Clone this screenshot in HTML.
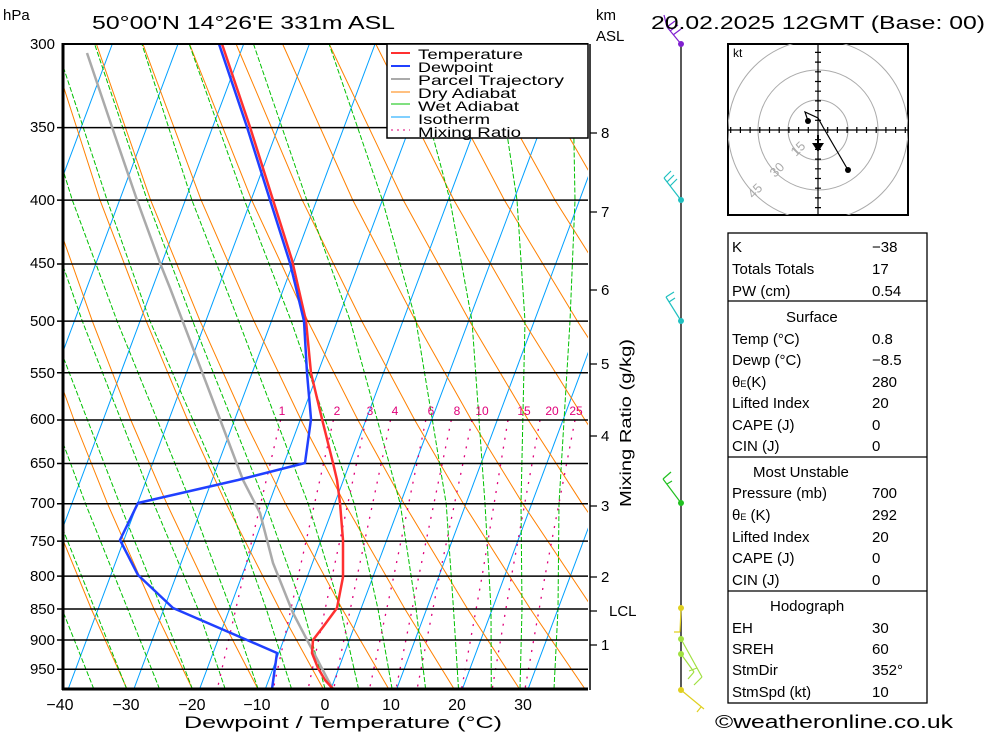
<!DOCTYPE html>
<html><head><meta charset="utf-8"><style>
html,body{margin:0;padding:0;background:#fff;}
svg{display:block;font-family:"Liberation Sans",sans-serif;}
</style></head><body>
<svg width="1000" height="733" viewBox="0 0 1000 733" xmlns="http://www.w3.org/2000/svg">
<defs><clipPath id="pc"><rect x="63" y="44" width="525" height="645"/></clipPath>
<clipPath id="hc"><rect x="728" y="44" width="180" height="171"/></clipPath></defs>
<rect width="1000" height="733" fill="#fff"/>
<g clip-path="url(#pc)" fill="none" stroke-width="1">
<!-- isotherms -->
<g stroke="#00a0ff">
<line x1="-128.9" y1="689" x2="112.3" y2="44"/>
<line x1="-63.2" y1="689" x2="178" y2="44"/>
<line x1="2.5" y1="689" x2="243.7" y2="44"/>
<line x1="68.2" y1="689" x2="309.4" y2="44"/>
<line x1="133.9" y1="689" x2="375.1" y2="44"/>
<line x1="199.6" y1="689" x2="440.8" y2="44"/>
<line x1="265.3" y1="689" x2="506.5" y2="44"/>
<line x1="331" y1="689" x2="572.2" y2="44"/>
<line x1="396.7" y1="689" x2="637.9" y2="44"/>
<line x1="462.4" y1="689" x2="703.6" y2="44"/>
<line x1="528.1" y1="689" x2="769.3" y2="44"/>
</g>
<!-- dry adiabats -->
<g stroke="#ff8000">
<polyline points="61.6,689 28.6,609 -11.2,503.7 -39.5,420 -69.4,321.1 -102.2,200.1 -136.5,44"/>
<polyline points="127,689 91.3,609 48.1,503.7 17.3,420 -15.5,321.1 -51.7,200.1 -89.9,44"/>
<polyline points="192.4,689 154,609 107.5,503.7 74,420 38.4,321.1 -1.1,200.1 -43.4,44"/>
<polyline points="257.9,689 216.7,609 166.8,503.7 130.8,420 92.3,321.1 49.5,200.1 3.2,44"/>
<polyline points="323.3,689 279.5,609 226.1,503.7 187.6,420 146.2,321.1 100,200.1 49.8,44"/>
<polyline points="388.7,689 342.2,609 285.5,503.7 244.4,420 200.1,321.1 150.6,200.1 96.4,44"/>
<polyline points="454.1,689 404.9,609 344.8,503.7 301.1,420 254,321.1 201.1,200.1 142.9,44"/>
<polyline points="519.5,689 467.6,609 404.1,503.7 357.9,420 307.9,321.1 251.7,200.1 189.5,44"/>
<polyline points="585,689 530.4,609 463.4,503.7 414.7,420 361.8,321.1 302.2,200.1 236.1,44"/>
<polyline points="650.4,689 593.1,609 522.8,503.7 471.4,420 415.7,321.1 352.8,200.1 282.6,44"/>
<polyline points="715.8,689 655.8,609 582.1,503.7 528.2,420 469.6,321.1 403.3,200.1 329.2,44"/>
<polyline points="781,689 718.5,609 641.4,503.7 585,420 523.5,321.1 453.9,200.1 375.8,44"/>
<polyline points="847,689 781.2,609 700.8,503.7 641.7,420 577.4,321.1 504.4,200.1 422.3,44"/>
<polyline points="912,689 844,609 760.1,503.7 698.5,420 631.3,321.1 555,200.1 468.9,44"/>
<polyline points="977,689 906.6,609 819.4,503.7 755.3,420 685.2,321.1 605.5,200.1 515.5,44"/>
<polyline points="1043,689 969,609 878.8,503.7 812,420 739.1,321.1 656.1,200.1 562.1,44"/>
</g>
<!-- wet adiabats -->
<g stroke="#00c000" stroke-dasharray="5,2">
<polyline points="93.8,689 62,609 21.1,503.7 -39.9,321.1 -74.9,200.1 -111.1,44"/>
<polyline points="126.7,689 94.8,609 52.6,503.7 -11.7,321.1 -47.9,200.1 -86.8,44"/>
<polyline points="159.5,689 127.7,609 85.5,503.7 17.9,321.1 -20.3,200.1 -61.1,44"/>
<polyline points="192.4,689 161.8,609 119.7,503.7 49.4,321.1 9.2,200.1 -33.6,44"/>
<polyline points="225.2,689 198,609 153.8,503.7 82.3,321.1 40.1,200.1 -5.3,44"/>
<polyline points="258.1,689 230.8,609 191.3,503.7 117.1,321.1 72.3,200.1 24.3,44"/>
<polyline points="291.6,689 266.3,609 229.4,503.7 150,321.1 107.1,200.1 55.8,44"/>
<polyline points="325.1,689 303.1,609 265.5,503.7 192.7,321.1 147.2,200.1 94.6,44"/>
<polyline points="358.6,689 340.5,609 308.2,503.7 238.7,321.1 191.9,200.1 141.9,44"/>
<polyline points="392.1,689 378,609 354.2,503.7 291.2,321.1 244.4,200.1 189.2,44"/>
<polyline points="425.6,689 416.1,609 400.2,503.7 350.3,321.1 306.8,200.1 253.5,44"/>
<polyline points="458.5,689 453.5,609 446.2,503.7 416,321.1 382.4,200.1 329.1,44"/>
<polyline points="491.3,689 491,609 485,503.7 472,321.1 450,200.1 408,44"/>
<polyline points="520,689 522,609 521,503.7 525,321.1 517,200.1 493.4,44"/>
<polyline points="554,689 558,609 559,503.7 570,321.1 575,200.1 572.2,44"/>
</g>
<!-- mixing ratio -->
<g stroke="#e0007a" stroke-width="1.3" stroke-dasharray="2,7">
<polyline points="280.6,420 243.4,576.1 217.3,689"/>
<polyline points="333.4,420 298.2,576.1 273.3,689"/>
<polyline points="365.9,420 332.2,576.1 308.1,689"/>
<polyline points="390.5,420 357.2,576.1 333.7,689"/>
<polyline points="425.8,420 393.8,576.1 369.5,689"/>
<polyline points="451.3,420 418.8,576.1 396,689"/>
<polyline points="472,420 439.4,576.1 417.1,689"/>
<polyline points="508,420 482.1,576.1 461.6,689"/>
<polyline points="540,420 511.5,576.1 492.2,689"/>
<polyline points="575,420 545,576.1 525,689"/>
</g>
</g>
<!-- pressure lines -->
<g stroke="#000" stroke-width="1.5">
<line x1="57" y1="127.6" x2="588" y2="127.6"/><line x1="57" y1="200.1" x2="588" y2="200.1"/>
<line x1="57" y1="264" x2="588" y2="264"/><line x1="57" y1="321.1" x2="588" y2="321.1"/>
<line x1="57" y1="372.8" x2="588" y2="372.8"/><line x1="57" y1="420" x2="588" y2="420"/>
<line x1="57" y1="463.5" x2="588" y2="463.5"/><line x1="57" y1="503.7" x2="588" y2="503.7"/>
<line x1="57" y1="541.1" x2="588" y2="541.1"/><line x1="57" y1="576.1" x2="588" y2="576.1"/>
<line x1="57" y1="609" x2="588" y2="609"/><line x1="57" y1="640" x2="588" y2="640"/>
<line x1="57" y1="669.3" x2="588" y2="669.3"/>
</g>
<!-- curves -->
<g clip-path="url(#pc)" fill="none" stroke-width="2.5" stroke-linejoin="round">
<polyline stroke="#aaa" points="87,53 112,127 137,200 160,263 170,288 207,385 243,480 260,513 273,563 293,613 328,680 333,689"/>
<polyline stroke="#ff3030" points="222,44 250,127 273,200 292,260 306,321 311,373 322,419 333,463 337,480 340,503 343,540 343,577 337,608 323,627 313,640 312,653 318,668 325,680 333,689"/>
<polyline stroke="#2040ff" points="219,44 247,127 270,200 290,263 304,321 307,373 311,419 305,463 238,480 138,503 120,540 138,575 173,608 247,640 277,653 272,689"/>
</g>
<!-- frame -->
<g stroke="#000">
<line x1="63" y1="43" x2="63" y2="690" stroke-width="3"/>
<line x1="62" y1="689" x2="588" y2="689" stroke-width="3"/>
<line x1="63" y1="44" x2="588" y2="44" stroke-width="2"/>
<line x1="590" y1="44" x2="590" y2="690" stroke-width="1.5"/>
<path d="M590 133h7M590 212h7M590 290h7M590 364h7M590 436h7M590 506h7M590 577h7M590 645h7M590 611h7" stroke-width="1.3"/>
<line x1="681" y1="44" x2="681" y2="689" stroke-width="1.3"/>
</g>
<!-- wind barbs -->
<g fill="none" stroke-width="1.2">
<g stroke="#8020d0"><path d="M681 44L667 27M667 27l8-6M670 31l8-6M673 35l8-6M667 27l-3-12"/></g>
<circle cx="681" cy="44" r="3" fill="#8020d0"/>
<g stroke="#20c0c0"><path d="M681 200L664 178M664 178l7-7M667 182l7-7M670 186l7-7"/></g>
<circle cx="681" cy="200" r="3" fill="#20c0c0"/>
<g stroke="#20c0c0"><path d="M681 321L666 297M666 297l8-5M669 302l6-4"/></g>
<circle cx="681" cy="321" r="3" fill="#20c0c0"/>
<g stroke="#20c020"><path d="M681 503L663 479M663 479l8-7M667 484l5-3"/></g>
<circle cx="681" cy="503" r="3" fill="#20c020"/>
<g stroke="#e0d020"><path d="M681 608L680 632M680 632h-6"/></g>
<circle cx="681" cy="608" r="3" fill="#e0d020"/>
<g stroke="#a0e040"><path d="M681 639L702 677M702 677l-8 8M697 668l-8 3"/><path d="M681 654L694 672M694 672l-6 7"/></g>
<circle cx="681" cy="639" r="3" fill="#a0e040"/><circle cx="681" cy="654" r="3" fill="#a0e040"/>
<g stroke="#e0d020"><path d="M681 690L704 709M701 707l-4 5"/></g>
<circle cx="681" cy="690" r="3" fill="#e0d020"/>
</g>
<!-- texts -->
<g font-size="16" fill="#000">
<text x="3" y="20" font-size="15">hPa</text>
<text x="92" y="29" font-size="18" textLength="303" lengthAdjust="spacingAndGlyphs">50°00'N 14°26'E 331m ASL</text>
<text x="596" y="20" font-size="15">km</text>
<text x="596" y="41" font-size="15">ASL</text>
<text x="651" y="29" font-size="18" textLength="334" lengthAdjust="spacingAndGlyphs">20.02.2025 12GMT (Base: 00)</text>
<g text-anchor="end" font-size="15">
<text x="55" y="49">300</text><text x="55" y="132">350</text><text x="55" y="205">400</text><text x="55" y="268">450</text><text x="55" y="326">500</text><text x="55" y="378">550</text><text x="55" y="424">600</text><text x="55" y="468">650</text><text x="55" y="508">700</text><text x="55" y="546">750</text><text x="55" y="581">800</text><text x="55" y="614">850</text><text x="55" y="645">900</text><text x="55" y="674">950</text>
</g>
<g text-anchor="middle" font-size="16">
<text x="60" y="710">−40</text><text x="126" y="710">−30</text><text x="192" y="710">−20</text><text x="257" y="710">−10</text><text x="325" y="710">0</text><text x="391" y="710">10</text><text x="457" y="710">20</text><text x="523" y="710">30</text>
</g>
<text x="184" y="728" font-size="17" textLength="318" lengthAdjust="spacingAndGlyphs">Dewpoint / Temperature (°C)</text>
<g font-size="15">
<text x="601" y="138">8</text><text x="601" y="217">7</text><text x="601" y="295">6</text><text x="601" y="369">5</text><text x="601" y="441">4</text><text x="601" y="511">3</text><text x="601" y="582">2</text><text x="601" y="650">1</text><text x="609" y="616">LCL</text>
</g>
<text transform="translate(631,507) rotate(-90)" font-size="16" textLength="168" lengthAdjust="spacingAndGlyphs">Mixing Ratio (g/kg)</text>
<g font-size="12" fill="#e0007a" text-anchor="middle">
<text x="282" y="415">1</text><text x="337" y="415">2</text><text x="370" y="415">3</text><text x="395" y="415">4</text><text x="431" y="415">6</text><text x="457" y="415">8</text><text x="482" y="415">10</text><text x="524" y="415">15</text><text x="552" y="415">20</text><text x="576" y="415">25</text>
</g>
<!-- legend -->
<rect x="387" y="44" width="201" height="94" fill="#fff" stroke="#000" stroke-width="1.5"/>
<g stroke-width="2">
<line x1="391" y1="53" x2="410" y2="53" stroke="#ff3030"/>
<line x1="391" y1="66" x2="410" y2="66" stroke="#2040ff"/>
<line x1="391" y1="79" x2="410" y2="79" stroke="#aaa"/>
<line x1="391" y1="92" x2="410" y2="92" stroke="#ff8000" stroke-width="1"/>
<line x1="391" y1="104" x2="410" y2="104" stroke="#00c000" stroke-width="1"/>
<line x1="391" y1="117" x2="410" y2="117" stroke="#00a0ff" stroke-width="1"/>
<line x1="391" y1="130" x2="410" y2="130" stroke="#e0007a" stroke-width="1" stroke-dasharray="2,4"/>
</g>
<g font-size="14">
<text x="418" y="59" textLength="105" lengthAdjust="spacingAndGlyphs">Temperature</text>
<text x="418" y="72" textLength="75" lengthAdjust="spacingAndGlyphs">Dewpoint</text>
<text x="418" y="85" textLength="146" lengthAdjust="spacingAndGlyphs">Parcel Trajectory</text>
<text x="418" y="98" textLength="98" lengthAdjust="spacingAndGlyphs">Dry Adiabat</text>
<text x="418" y="111" textLength="101" lengthAdjust="spacingAndGlyphs">Wet Adiabat</text>
<text x="418" y="124" textLength="72" lengthAdjust="spacingAndGlyphs">Isotherm</text>
<text x="418" y="137" textLength="103" lengthAdjust="spacingAndGlyphs">Mixing Ratio</text>
</g>
<!-- hodograph -->
<rect x="728" y="44" width="180" height="171" fill="#fff" stroke="#000" stroke-width="2"/>
<g clip-path="url(#hc)" fill="none" stroke="#aaa">
<circle cx="818" cy="130" r="30"/><circle cx="818" cy="130" r="60"/><circle cx="818" cy="130" r="90"/>
</g>
<g stroke="#000" stroke-width="1.2" fill="none">
<line x1="728" y1="130" x2="908" y2="130"/><line x1="818" y1="44" x2="818" y2="215"/>
<path d="M808.3 127v6M798.6 127v6M788.9 127v6M779.2 127v6M769.5 127v6M759.8 127v6M750.1 127v6M740.4 127v6M730.7 127v6M827.7 127v6M837.4 127v6M847.1 127v6M856.8 127v6M866.5 127v6M876.2 127v6M885.9 127v6M895.6 127v6M905.3 127v6"/>
<path d="M815 120.3h6M815 110.6h6M815 100.9h6M815 91.2h6M815 81.5h6M815 71.8h6M815 62.1h6M815 52.4h6M815 139.7h6M815 149.4h6M815 159.1h6M815 168.8h6M815 178.5h6M815 188.2h6M815 197.9h6M815 207.6h6"/>
<polyline points="808,121 805,112 818,118 823,127 848,170"/>
<line x1="818" y1="135" x2="818" y2="148" stroke-width="2"/>
</g>
<circle cx="808" cy="121" r="3" fill="#000"/><circle cx="848" cy="170" r="3" fill="#000"/>
<polygon points="812,143 824,143 818,152" fill="#000"/>
<text x="733" y="57" font-size="12">kt</text>
<g fill="#aaa" font-size="13">
<text transform="translate(796,157) rotate(-45)">15</text>
<text transform="translate(775,178) rotate(-45)">30</text>
<text transform="translate(753,199) rotate(-45)">45</text>
</g>
<!-- table -->
<g fill="none" stroke="#000" stroke-width="1.3">
<rect x="728" y="233" width="199" height="470"/>
<line x1="728" y1="301" x2="927" y2="301"/><line x1="728" y1="457" x2="927" y2="457"/><line x1="728" y1="591" x2="927" y2="591"/>
</g>
<g font-size="15">
<text x="732" y="252">K</text><text x="872" y="252">−38</text>
<text x="732" y="274">Totals Totals</text><text x="872" y="274">17</text>
<text x="732" y="296">PW (cm)</text><text x="872" y="296">0.54</text>
<text x="786" y="322">Surface</text>
<text x="732" y="344">Temp (°C)</text><text x="872" y="344">0.8</text>
<text x="732" y="365">Dewp (°C)</text><text x="872" y="365">−8.5</text>
<text x="732" y="387">θ<tspan font-size="9">E</tspan>(K)</text><text x="872" y="387">280</text>
<text x="732" y="408">Lifted Index</text><text x="872" y="408">20</text>
<text x="732" y="430">CAPE (J)</text><text x="872" y="430">0</text>
<text x="732" y="451">CIN (J)</text><text x="872" y="451">0</text>
<text x="753" y="477">Most Unstable</text>
<text x="732" y="498">Pressure (mb)</text><text x="872" y="498">700</text>
<text x="732" y="520">θ<tspan font-size="9">E</tspan> (K)</text><text x="872" y="520">292</text>
<text x="732" y="542">Lifted Index</text><text x="872" y="542">20</text>
<text x="732" y="563">CAPE (J)</text><text x="872" y="563">0</text>
<text x="732" y="585">CIN (J)</text><text x="872" y="585">0</text>
<text x="770" y="611">Hodograph</text>
<text x="732" y="633">EH</text><text x="872" y="633">30</text>
<text x="732" y="654">SREH</text><text x="872" y="654">60</text>
<text x="732" y="675">StmDir</text><text x="872" y="675">352°</text>
<text x="732" y="697">StmSpd (kt)</text><text x="872" y="697">10</text>
</g>
<text x="715" y="728" font-size="18" textLength="238" lengthAdjust="spacingAndGlyphs">©weatheronline.co.uk</text>
</g>
</svg>
</body></html>
